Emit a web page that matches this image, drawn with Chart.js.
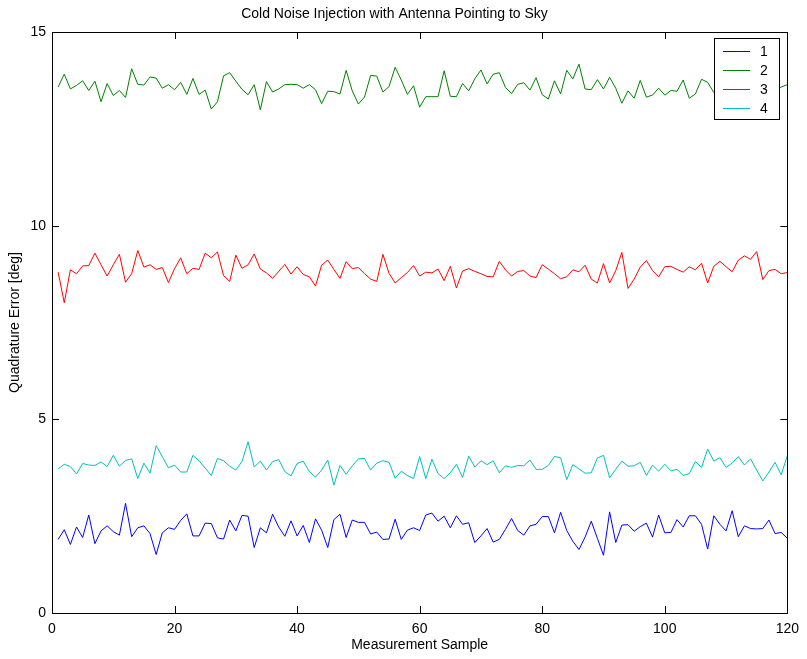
<!DOCTYPE html>
<html>
<head>
<meta charset="utf-8">
<script src="https://cdn.jsdelivr.net/npm/chart.js@4/dist/chart.umd.min.js"></script>
<style>
  html, body { margin: 0; padding: 0; background: #ffffff; }
  canvas { display: block; }
</style>
</head>
<body>
<canvas id="chart" width="807" height="659"></canvas>
<script>
// Sample index along the x axis
const samples = Array.from({ length: 120 }, (_, i) => i + 1);

const seriesNames = ['1', '2', '3', '4'];
const seriesColors = ['#0000ff', '#008000', '#ff0000', '#00bfbf'];

const xTicks = [0, 20, 40, 60, 80, 100, 120];
const yTicks = [0, 5, 10, 15];

// Quadrature error per channel [deg]
const chan1 = [
  1.90, 2.15, 1.77, 2.22, 1.95, 2.53, 1.79, 2.12, 2.25, 2.10,
  2.01, 2.83, 1.97, 2.20, 2.25, 2.05, 1.51, 2.07, 2.20, 2.16,
  2.39, 2.56, 1.99, 1.99, 2.32, 2.31, 1.94, 1.91, 2.40, 2.12,
  2.52, 2.50, 1.69, 2.20, 2.07, 2.55, 2.22, 1.98, 2.38, 1.99,
  2.26, 1.82, 2.43, 2.14, 1.69, 2.41, 2.55, 1.95, 2.40, 2.34,
  2.34, 2.04, 2.09, 1.90, 1.91, 2.42, 1.90, 2.14, 2.20, 2.13,
  2.53, 2.58, 2.37, 2.50, 2.20, 2.51, 2.29, 2.33, 1.82, 1.99,
  2.18, 1.83, 1.90, 2.16, 2.44, 2.13, 2.01, 2.25, 2.29, 2.49,
  2.49, 2.07, 2.60, 2.13, 1.85, 1.64, 1.96, 2.37, 1.93, 1.49,
  2.61, 1.82, 2.27, 2.28, 2.11, 2.23, 2.32, 1.96, 2.53, 2.07,
  2.08, 2.41, 2.22, 2.51, 2.51, 2.29, 1.65, 2.51, 2.29, 2.12,
  2.64, 1.97, 2.25, 2.18, 2.17, 2.18, 2.40, 2.05, 2.08, 1.93
];
const chan2 = [
  13.58, 13.91, 13.53, 13.62, 13.74, 13.49, 13.73, 13.20, 13.67, 13.36,
  13.49, 13.31, 14.05, 13.65, 13.63, 13.84, 13.81, 13.55, 13.64, 13.51,
  13.70, 13.39, 13.80, 13.39, 13.50, 13.01, 13.20, 13.87, 13.95, 13.73,
  13.52, 13.38, 13.64, 12.99, 13.72, 13.45, 13.53, 13.64, 13.65, 13.64,
  13.55, 13.64, 13.51, 13.15, 13.47, 13.46, 13.40, 14.01, 13.48, 13.14,
  13.32, 13.88, 13.86, 13.45, 13.59, 14.09, 13.76, 13.39, 13.61, 13.06,
  13.33, 13.33, 13.33, 14.00, 13.34, 13.33, 13.67, 13.48, 13.79, 14.02,
  13.66, 13.91, 13.95, 13.57, 13.41, 13.65, 13.69, 13.50, 13.82, 13.38,
  13.27, 13.74, 13.40, 14.01, 13.79, 14.17, 13.53, 13.51, 13.77, 13.53,
  13.83, 13.55, 13.16, 13.48, 13.29, 13.75, 13.32, 13.37, 13.55, 13.37,
  13.49, 13.47, 13.76, 13.29, 13.40, 13.78, 13.70, 13.44, 13.55, 13.32,
  13.68, 13.47, 13.80, 13.41, 13.60, 13.29, 13.72, 13.50, 13.58, 13.64
];
const chan3 = [
  8.80, 8.01, 8.86, 8.76, 8.96, 8.97, 9.29, 8.99, 8.70, 8.99,
  9.26, 8.54, 8.76, 9.36, 8.93, 8.99, 8.87, 8.92, 8.53, 8.89,
  9.17, 8.76, 8.90, 8.87, 9.29, 9.17, 9.32, 8.71, 8.56, 9.24,
  8.90, 8.99, 9.27, 8.88, 8.78, 8.64, 8.82, 9.00, 8.75, 8.94,
  8.74, 8.68, 8.44, 8.98, 9.11, 8.87, 8.64, 9.07, 8.89, 8.92,
  8.76, 8.62, 8.56, 9.26, 8.77, 8.52, 8.66, 8.79, 8.97, 8.70,
  8.80, 8.78, 8.88, 8.58, 8.95, 8.39, 8.83, 8.89, 8.82, 8.76,
  8.69, 8.68, 9.08, 8.86, 8.70, 8.82, 8.84, 8.70, 8.66, 8.99,
  8.88, 8.76, 8.63, 8.68, 8.86, 8.81, 8.98, 8.62, 8.52, 9.02,
  8.52, 8.84, 9.31, 8.38, 8.62, 8.93, 9.10, 8.84, 8.68, 8.94,
  8.95, 8.87, 8.80, 8.94, 8.86, 9.03, 8.52, 8.95, 9.08, 8.94,
  8.81, 9.11, 9.22, 9.13, 9.33, 8.61, 8.84, 8.87, 8.76, 8.79
];
const chan4 = [
  3.72, 3.84, 3.78, 3.59, 3.86, 3.82, 3.81, 3.90, 3.78, 4.07,
  3.79, 3.94, 3.98, 3.47, 3.87, 3.61, 4.32, 4.04, 3.75, 3.82,
  3.64, 3.64, 4.07, 3.93, 3.74, 3.55, 3.99, 3.93, 3.79, 3.69,
  3.91, 4.42, 3.77, 3.92, 3.69, 3.91, 3.96, 3.65, 3.54, 3.86,
  3.92, 3.65, 3.51, 3.69, 3.95, 3.30, 3.81, 3.58, 3.80, 3.98,
  3.99, 3.69, 3.87, 3.93, 3.89, 3.48, 3.66, 3.55, 3.47, 4.04,
  3.47, 3.97, 3.60, 3.47, 3.62, 3.84, 3.50, 4.05, 3.77, 3.93,
  3.83, 3.93, 3.62, 3.80, 3.76, 3.81, 3.80, 3.95, 3.71, 3.71,
  3.81, 4.04, 4.01, 3.44, 3.83, 3.72, 3.61, 3.62, 4.00, 4.07,
  3.49, 3.71, 3.92, 3.79, 3.80, 3.89, 3.55, 3.82, 3.66, 3.84,
  3.67, 3.71, 3.55, 3.60, 3.91, 3.76, 4.23, 3.92, 4.01, 3.76,
  3.87, 4.04, 3.82, 3.98, 3.69, 3.41, 3.64, 3.89, 3.57, 4.06
];

const channels = [chan1, chan2, chan3, chan4];
const FONT = '"Liberation Sans", Arial, Helvetica, sans-serif';

// Box frame with inward tick marks on all four sides
const framePlugin = {
  id: 'frame',
  afterDatasetsDraw(chart) {
    const { ctx, chartArea: a, scales } = chart;
    const len = 7;
    ctx.save();
    ctx.strokeStyle = '#000000';
    ctx.lineWidth = 1;
    ctx.beginPath();
    xTicks.forEach(v => {
      const px = Math.round(scales.x.getPixelForValue(v)) + 0.5;
      ctx.moveTo(px, a.bottom); ctx.lineTo(px, a.bottom - len);
      ctx.moveTo(px, a.top); ctx.lineTo(px, a.top + len);
    });
    yTicks.forEach(v => {
      const py = Math.round(scales.y.getPixelForValue(v)) + 0.5;
      ctx.moveTo(a.left, py); ctx.lineTo(a.left + len, py);
      ctx.moveTo(a.right, py); ctx.lineTo(a.right - len, py);
    });
    ctx.stroke();
    ctx.strokeRect(Math.round(a.left) + 0.5, Math.round(a.top) + 0.5,
                   Math.round(a.right - a.left), Math.round(a.bottom - a.top));
    ctx.restore();
  }
};

// Boxed legend in the upper right corner of the plot
const boxLegendPlugin = {
  id: 'boxLegend',
  afterDraw(chart) {
    const { ctx, chartArea: a } = chart;
    const w = 65, h = 81;
    const x0 = Math.round(a.right) - 8 - w, y0 = Math.round(a.top) + 6;
    ctx.save();
    ctx.fillStyle = '#ffffff';
    ctx.fillRect(x0, y0, w, h);
    ctx.strokeStyle = '#000000';
    ctx.lineWidth = 1;
    ctx.strokeRect(x0 + 0.5, y0 + 0.5, w, h);
    ctx.font = '14px ' + FONT;
    ctx.textBaseline = 'middle';
    ctx.textAlign = 'left';
    chart.data.datasets.forEach((ds, i) => {
      const cy = y0 + 13 + i * 19;
      ctx.strokeStyle = seriesColors[i];
      ctx.lineWidth = 1;
      ctx.beginPath();
      ctx.moveTo(x0 + 9, cy + 0.5);
      ctx.lineTo(x0 + 36, cy + 0.5);
      ctx.stroke();
      ctx.fillStyle = '#000000';
      ctx.fillText(ds.label, x0 + 46, cy + 1);
    });
    ctx.restore();
  }
};

new Chart(document.getElementById('chart'), {
  type: 'line',
  data: {
    datasets: channels.map((vals, i) => ({
      label: seriesNames[i],
      data: vals.map((v, k) => ({ x: samples[k], y: v })),
      borderColor: seriesColors[i],
      borderWidth: 1,
      pointRadius: 0,
      tension: 0,
      fill: false
    }))
  },
  options: {
    responsive: false,
    animation: false,
    devicePixelRatio: 1,
    layout: { padding: { left: 0, right: 18, top: 0, bottom: 0 } },
    plugins: {
      legend: { display: false },
      tooltip: { enabled: false },
      title: {
        display: true,
        text: 'Cold Noise Injection with Antenna Pointing to Sky',
        color: '#000000',
        font: { family: FONT, size: 14, weight: 'normal' },
        padding: { top: 6, bottom: 9.2 }
      }
    },
    scales: {
      x: {
        type: 'linear',
        min: 0,
        max: 120,
        afterFit(scale) { scale.height = 46; },
        afterBuildTicks(scale) { scale.ticks = xTicks.map(v => ({ value: v })); },
        grid: { display: false, drawTicks: false },
        border: { display: false },
        ticks: { color: '#000000', font: { family: FONT, size: 14 }, padding: 8, maxRotation: 0, autoSkip: false },
        title: {
          display: true,
          text: 'Measurement Sample',
          color: '#000000',
          font: { family: FONT, size: 14 },
          padding: { top: 0, bottom: 5 }
        }
      },
      y: {
        type: 'linear',
        min: 0,
        max: 15,
        afterFit(scale) { scale.width = 52; },
        afterBuildTicks(scale) { scale.ticks = yTicks.map(v => ({ value: v })); },
        grid: { display: false, drawTicks: false },
        border: { display: false },
        ticks: { color: '#000000', font: { family: FONT, size: 14 }, padding: 6 },
        title: {
          display: true,
          text: 'Quadrature Error [deg]',
          color: '#000000',
          font: { family: FONT, size: 14 },
          padding: { top: 7, bottom: 0 }
        }
      }
    }
  },
  plugins: [framePlugin, boxLegendPlugin]
});
</script>
</body>
</html>
